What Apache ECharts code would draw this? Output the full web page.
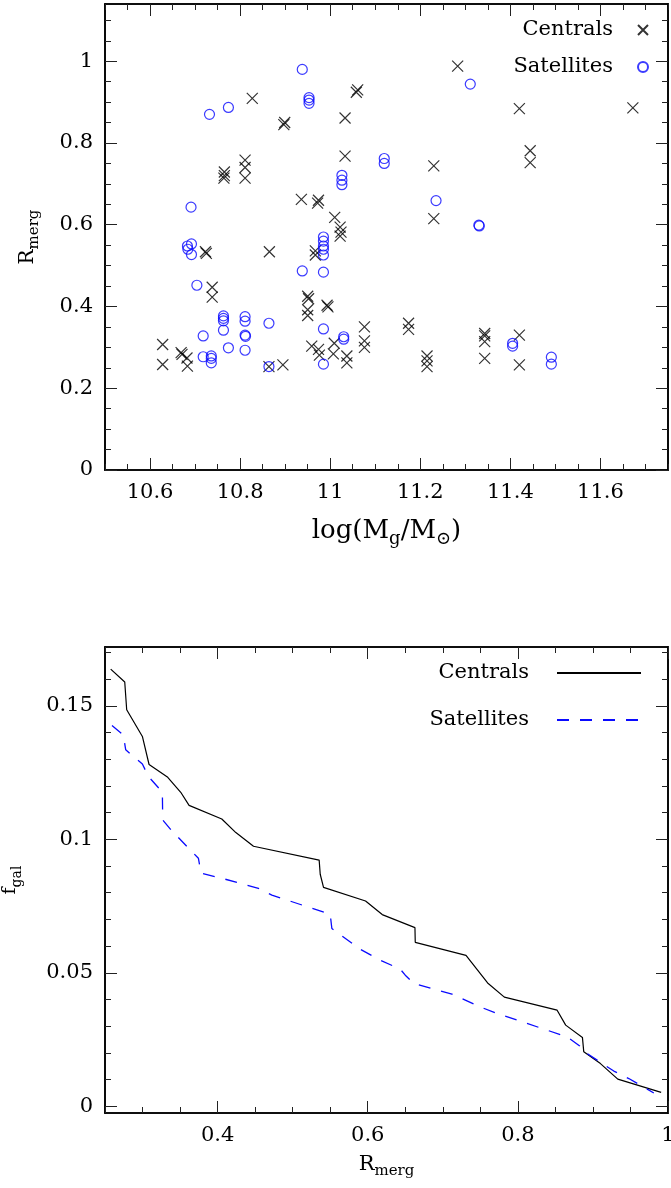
<!DOCTYPE html>
<html>
<head>
<meta charset="UTF-8">
<title>Rmerg</title>
<script src="https://cdn.jsdelivr.net/npm/echarts@6/dist/echarts.min.js"></script>
<style>
body{margin:0;padding:0;background:#fff;}
#main{width:671px;height:1188px;}
</style>
</head>
<body>
<div id="main"></div>
<script>
// top panel: merger radius vs. galaxy mass
var cenMass = [10.827, 10.899, 10.897, 11.061, 11.058, 11.033, 11.033, 10.765, 10.765, 10.764,
  10.811, 10.811, 10.811, 10.936, 10.974, 10.972, 11.010, 11.022, 11.024, 11.022,
  11.283, 11.420, 11.672, 11.230, 11.444, 11.444, 11.230, 10.723, 10.725, 10.865,
  10.967, 10.967, 10.738, 10.738, 10.950, 10.952, 10.950, 10.950, 10.993, 10.995,
  11.076, 11.076, 11.076, 10.628, 10.628, 10.669, 10.671, 10.682, 10.683, 10.864,
  10.895, 10.959, 10.974, 10.976, 11.009, 11.007, 11.037, 11.037, 11.174, 11.174,
  11.215, 11.215, 11.215, 11.343, 11.343, 11.343, 11.343, 11.420, 11.420];
var cenRmerg = [0.909, 0.850, 0.845, 0.930, 0.924, 0.861, 0.768, 0.729, 0.720, 0.714,
  0.758, 0.740, 0.714, 0.662, 0.660, 0.653, 0.618, 0.594, 0.582, 0.572,
  0.988, 0.884, 0.886, 0.744, 0.781, 0.752, 0.615, 0.534, 0.530, 0.534,
  0.536, 0.526, 0.447, 0.423, 0.425, 0.419, 0.392, 0.378, 0.403, 0.399,
  0.350, 0.316, 0.300, 0.307, 0.258, 0.287, 0.283, 0.274, 0.254, 0.253,
  0.257, 0.303, 0.295, 0.281, 0.310, 0.284, 0.279, 0.262, 0.359, 0.344,
  0.279, 0.267, 0.253, 0.334, 0.328, 0.314, 0.273, 0.330, 0.257];
var satMass = [10.938, 10.732, 10.774, 10.953, 10.953, 10.953, 11.120, 11.120, 11.026, 11.026,
  11.026, 11.311, 11.235, 11.330, 11.331, 10.691, 10.683, 10.692, 10.684, 10.692,
  10.985, 10.985, 10.985, 10.985, 10.985, 10.985, 10.938, 10.704, 10.763, 10.763,
  10.763, 10.811, 10.811, 10.811, 10.812, 10.763, 10.864, 10.718, 10.985, 11.030,
  11.030, 10.774, 10.811, 10.718, 10.736, 10.736, 10.736, 10.864, 10.985, 11.405,
  11.405, 11.491, 11.491];
var satRmerg = [0.980, 0.870, 0.887, 0.911, 0.905, 0.897, 0.762, 0.750, 0.721, 0.709,
  0.698, 0.944, 0.659, 0.599, 0.597, 0.643, 0.548, 0.553, 0.540, 0.527,
  0.570, 0.560, 0.548, 0.540, 0.526, 0.484, 0.487, 0.452, 0.377, 0.371,
  0.365, 0.375, 0.364, 0.330, 0.327, 0.342, 0.359, 0.328, 0.345, 0.326,
  0.320, 0.299, 0.293, 0.277, 0.279, 0.273, 0.262, 0.253, 0.259, 0.310,
  0.303, 0.276, 0.259];

// bottom panel: cumulative fraction of galaxies
var cenR = [0.2576, 0.2763, 0.2789, 0.2998, 0.3087, 0.3336, 0.3509, 0.362, 0.4056, 0.4243,
  0.4478, 0.5353, 0.5367, 0.5411, 0.5971, 0.6193, 0.6629, 0.6633, 0.7309, 0.7597,
  0.782, 0.8523, 0.8637, 0.886, 0.8878, 0.91, 0.9331, 0.9909];
var cenFgal = [0.1637, 0.1589, 0.1485, 0.1385, 0.1280, 0.1232, 0.1176, 0.1127, 0.1076, 0.1025,
  0.0974, 0.0922, 0.0869, 0.0820, 0.0769, 0.0718, 0.0669, 0.0614, 0.0565, 0.0462,
  0.0409, 0.0360, 0.0304, 0.0258, 0.0204, 0.0160, 0.0102, 0.0052];
var satR = [0.2593, 0.2744, 0.2776, 0.2878, 0.2998, 0.3078, 0.3264, 0.3269, 0.3389, 0.3744,
  0.378, 0.4056, 0.4544, 0.4723, 0.55, 0.5522, 0.59, 0.6167, 0.6433, 0.65,
  0.6611, 0.7122, 0.75, 0.7723, 0.8656, 0.8824, 0.8887, 0.9278, 0.9478, 0.9811];
var satFgal = [0.1426, 0.1391, 0.1335, 0.1310, 0.1282, 0.1235, 0.1177, 0.1072, 0.1032, 0.0929,
  0.0873, 0.0854, 0.0816, 0.0791, 0.0719, 0.0666, 0.0588, 0.0547, 0.0514, 0.0491,
  0.0460, 0.0420, 0.0372, 0.0348, 0.0260, 0.0226, 0.0204, 0.0132, 0.0104, 0.0050];

var massTicks = [10.6, 10.8, 11, 11.2, 11.4, 11.6];
var rmergTicks = [0, 0.2, 0.4, 0.6, 0.8, 1];
var rTicks = [0.4, 0.6, 0.8, 1];
var fgalTicks = [0, 0.05, 0.1, 0.15];

var FONT = 'DejaVu Serif';
var BLUE = '#0a0aff';

function zip(a, b) {
  return a.map(function (v, i) { return [v, b[i]]; });
}

// minor tick positions between lo and hi
function minors(lo, hi, step) {
  var out = [];
  var n = Math.ceil(lo / step - 1e-9);
  for (var v = n * step; v <= hi + 1e-9; v = (++n) * step) {
    out.push(Math.round(v * 1e6) / 1e6);
  }
  return out;
}

// four axes per side pair: labelled major, minor, mirrored major, mirrored minor
function axes(dim, grid, min, max, major, minorStep, name, nameOpt) {
  var pos = dim === 'x' ? ['bottom', 'top'] : ['left', 'right'];
  var minorVals = minors(min, max, minorStep);
  var list = [];
  pos.forEach(function (p, i) {
    [major, minorVals].forEach(function (vals, k) {
      var ax = {
        type: 'value', gridIndex: grid, position: p, min: min, max: max,
        splitLine: { show: false },
        axisLine: { onZero: false, lineStyle: { color: '#000', width: 1.6 } },
        axisTick: { inside: true, length: k === 0 ? 12 : 6, customValues: vals,
          lineStyle: { color: '#222', width: 1 } },
        axisLabel: { show: i === 0 && k === 0, customValues: vals, margin: 12,
          fontFamily: FONT, fontSize: 21, color: '#000' }
      };
      if (i === 0 && k === 0) {
        ax.name = name;
        Object.assign(ax, nameOpt);
      }
      list.push(ax);
    });
  });
  return list;
}

// rich text with a dropped subscript
function nameStyle(size, sub, drop) {
  return {
    fontFamily: FONT, fontSize: size, color: '#000',
    rich: {
      b: { fontFamily: FONT, fontSize: size, lineHeight: size + 4, verticalAlign: 'top', color: '#000' },
      s: { fontFamily: FONT, fontSize: sub, lineHeight: sub, verticalAlign: 'bottom', color: '#000',
        padding: [size + 4 - sub + drop, 0, 0, 0] }
    }
  };
}

var xAxes = [].concat(
  axes('x', 0, 10.5, 11.75, massTicks, 0.05, '{b|log(M}{s|g}{b|/M}{s|\u2299}{b|)}',
    { nameLocation: 'middle', nameGap: 48, nameTextStyle: nameStyle(26, 18, 8) }),
  axes('x', 1, 0.25, 1.0, rTicks, 0.05, '{b|R}{s|merg}',
    { nameLocation: 'middle', nameGap: 40, nameTextStyle: nameStyle(21, 15, 7) })
);
var yAxes = [].concat(
  axes('y', 0, 0, 1.14, rmergTicks, 0.05, '{b|R}{s|merg}',
    { nameLocation: 'middle', nameRotate: 90, nameGap: 63, nameTextStyle: nameStyle(20, 15, 7) }),
  axes('y', 1, -0.0025, 0.172, fgalTicks, 0.01, '{b|f}{s|gal}',
    { nameLocation: 'middle', nameRotate: 90, nameGap: 81, nameTextStyle: nameStyle(19, 14, 6) })
);

var crossPath = 'path://M0,0L10,10M10,0L0,10';

var legendText = { fontFamily: FONT, fontSize: 21, color: '#000', lineHeight: 22 };

var chart = echarts.init(document.getElementById('main'));
chart.setOption({
  animation: false,
  backgroundColor: '#fff',
  grid: [
    { left: 105, right: 3, top: 4, height: 466, outerBoundsMode: 'none', containLabel: false },
    { left: 105, right: 3, top: 647, height: 466, outerBoundsMode: 'none', containLabel: false }
  ],
  xAxis: xAxes,
  yAxis: yAxes,
  legend: [{
    data: ['Centrals|pts', 'Satellites|pts'],
    orient: 'vertical', right: 17, top: 14, align: 'right',
    itemWidth: 10, itemHeight: 10, itemGap: 15, selectedMode: false,
    formatter: function (n) { return n.split('|')[0]; },
    textStyle: Object.assign({ padding: [0, 20, 0, 0] }, legendText)
  }, {
    data: ['Centrals|line', 'Satellites|line'],
    orient: 'vertical', right: 24, top: 657, align: 'right',
    itemWidth: 84, itemHeight: 14, itemGap: 25, selectedMode: false,
    itemStyle: { opacity: 0 },
    formatter: function (n) { return n.split('|')[0]; },
    textStyle: Object.assign({ padding: [0, 23, 0, 0] }, legendText)
  }],
  series: [{
    name: 'Centrals|pts', type: 'scatter', xAxisIndex: 0, yAxisIndex: 0,
    symbol: crossPath, symbolSize: 11,
    itemStyle: { color: 'rgba(0,0,0,0)', borderColor: '#000', borderWidth: 1.2 },
    data: zip(cenMass, cenRmerg)
  }, {
    name: 'Satellites|pts', type: 'scatter', xAxisIndex: 0, yAxisIndex: 0,
    symbol: 'circle', symbolSize: 10,
    itemStyle: { color: 'rgba(0,0,0,0)', borderColor: BLUE, borderWidth: 1.2 },
    data: zip(satMass, satRmerg)
  }, {
    name: 'Centrals|line', type: 'line', xAxisIndex: 4, yAxisIndex: 4,
    symbol: 'none', lineStyle: { color: '#000', width: 1.2 },
    itemStyle: { color: '#000' },
    data: zip(cenR, cenFgal)
  }, {
    name: 'Satellites|line', type: 'line', xAxisIndex: 4, yAxisIndex: 4,
    symbol: 'none', lineStyle: { color: BLUE, width: 1.3, type: [12, 11] },
    itemStyle: { color: BLUE },
    data: zip(satR, satFgal)
  }]
});
</script>
</body>
</html>
